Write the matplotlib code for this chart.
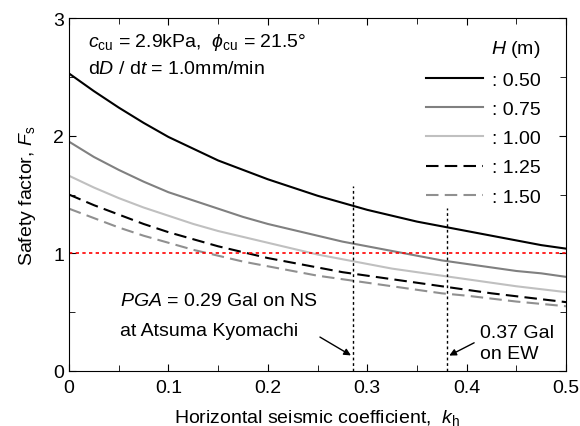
import matplotlib
matplotlib.use("Agg")
import matplotlib.pyplot as plt
from matplotlib.ticker import MultipleLocator, FuncFormatter

plt.rcParams['font.family'] = ['Liberation Sans', 'DejaVu Sans']
plt.rcParams['mathtext.fontset'] = 'custom'
plt.rcParams['mathtext.rm'] = 'Liberation Sans'
plt.rcParams['mathtext.it'] = 'Liberation Sans:italic'
plt.rcParams['mathtext.bf'] = 'Liberation Sans:bold'

# data
kh = [0.0, 0.025, 0.05, 0.075, 0.1, 0.125, 0.15, 0.175, 0.2, 0.225, 0.25,
      0.275, 0.3, 0.325, 0.35, 0.375, 0.4, 0.425, 0.45, 0.475, 0.5]
H_labels = [': 0.50', ': 0.75', ': 1.00', ': 1.25', ': 1.50']
fs_050 = [2.53, 2.38, 2.24, 2.11, 1.99, 1.89, 1.79, 1.71, 1.63, 1.56, 1.49,
          1.43, 1.37, 1.32, 1.27, 1.23, 1.19, 1.15, 1.11, 1.07, 1.04]
fs_075 = [1.95, 1.82, 1.71, 1.61, 1.52, 1.45, 1.38, 1.31, 1.25, 1.20, 1.15,
          1.10, 1.06, 1.02, 0.98, 0.94, 0.91, 0.88, 0.85, 0.83, 0.80]
fs_100 = [1.66, 1.56, 1.47, 1.39, 1.32, 1.25, 1.19, 1.14, 1.09, 1.04, 0.99,
          0.95, 0.91, 0.87, 0.84, 0.81, 0.78, 0.75, 0.72, 0.695, 0.67]
fs_125 = [1.50, 1.41, 1.33, 1.25, 1.18, 1.12, 1.06, 1.01, 0.96, 0.92, 0.88,
          0.84, 0.81, 0.78, 0.75, 0.72, 0.69, 0.66, 0.635, 0.61, 0.585]
fs_150 = [1.38, 1.30, 1.22, 1.15, 1.09, 1.03, 0.98, 0.93, 0.89, 0.85, 0.81,
          0.78, 0.75, 0.72, 0.69, 0.66, 0.64, 0.615, 0.59, 0.57, 0.55]
kh_ns = 0.286
kh_ew = 0.38

series = [fs_050, fs_075, fs_100, fs_125, fs_150]
colors = ['black', '#808080', '#c0c0c0', 'black', '#909090']
styles = ['-', '-', '-', (0, (6, 3)), (0, (6, 3))]

fig = plt.figure(figsize=(5.8, 4.27), dpi=100)
ax = fig.add_axes([0.119, 0.129, 0.857, 0.826])

for fs, c, ls, lab in zip(series, colors, styles, H_labels):
    ax.plot(kh, fs, color=c, linestyle=ls, lw=1.5, label=lab)

ax.axhline(1.0, color='red', ls=(0, (2, 2)), lw=1.2)
ax.plot([kh_ns, kh_ns], [0, 1.57], color='black', ls=(0, (2, 2)), lw=1.0)
ax.plot([kh_ew, kh_ew], [0, 1.385], color='black', ls=(0, (2, 2)), lw=1.0)

ax.set_xlim(0, 0.5)
ax.set_ylim(0, 3)
ax.xaxis.set_major_locator(MultipleLocator(0.1))
ax.xaxis.set_minor_locator(MultipleLocator(0.05))
ax.yaxis.set_major_locator(MultipleLocator(1))
ax.yaxis.set_minor_locator(MultipleLocator(0.5))
ax.xaxis.set_major_formatter(FuncFormatter(lambda v, p: '0' if v == 0 else f'{v:.1f}'))
ax.tick_params(which='both', direction='in', top=True, right=True, labelsize=14)
ax.tick_params(axis='x', pad=6)
ax.tick_params(which='major', length=5)
ax.tick_params(which='minor', length=4)

ax.set_xlabel(r'Horizontal seismic coefficient,  $k_{\mathrm{h}}$', fontsize=14, labelpad=8)
ax.set_ylabel(r'Safety factor, $F_{\mathrm{s}}$', fontsize=14, labelpad=11)

ax.text(0.019, 2.80, r'$c_{\mathrm{cu}}$ = 2.9kPa,  $\phi_{\mathrm{cu}}$ = 21.5°', fontsize=14, va='center')
ax.text(0.019, 2.57, r'd$D$ / d$t$ = 1.0mm/min', fontsize=14, va='center')

ax.text(0.051, 0.60, r'$PGA$ = 0.29 Gal on NS', fontsize=14, va='center')
ax.text(0.051, 0.34, 'at Atsuma Kyomachi', fontsize=14, va='center')
ax.text(0.413, 0.33, '0.37 Gal', fontsize=14, va='center')
ax.text(0.413, 0.15, 'on EW', fontsize=14, va='center')

ax.annotate('', xy=(kh_ns, 0.12), xytext=(0.250, 0.30),
            arrowprops=dict(arrowstyle='-|>', color='black', lw=1.0, mutation_scale=10))
ax.annotate('', xy=(kh_ew, 0.12), xytext=(0.410, 0.25),
            arrowprops=dict(arrowstyle='-|>', color='black', lw=1.0, mutation_scale=10))

leg = ax.legend(loc='upper right', bbox_to_anchor=(0.973, 0.976), frameon=False,
                title=r'$H$ (m)', fontsize=14, title_fontsize=14, alignment='right',
                handlelength=2.9, handletextpad=0.5, labelspacing=0.6,
                borderaxespad=0.2)

fig.savefig('out.png', dpi=100)
